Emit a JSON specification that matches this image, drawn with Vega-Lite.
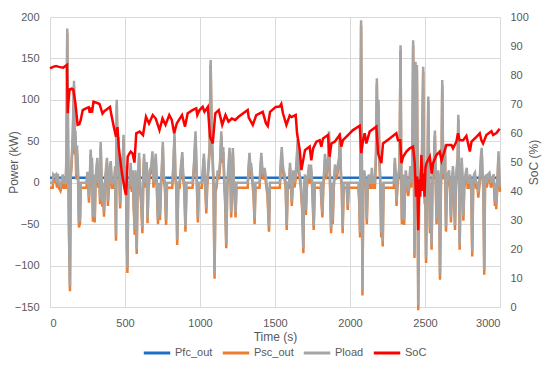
{
  "$schema": "https://vega.github.io/schema/vega-lite/v6.json",
  "width": 450,
  "height": 290,
  "autosize": {"type": "none"},
  "padding": {"left": 50, "top": 17, "right": 50, "bottom": 63},
  "config": {
    "font": "Liberation Sans",
    "view": {"stroke": null},
    "axis": {
      "domain": false,
      "ticks": false,
      "gridColor": "#D9D9D9",
      "gridWidth": 1,
      "labelColor": "#595959",
      "labelFontSize": 11,
      "titleColor": "#595959",
      "titleFontSize": 12,
      "titleFontWeight": "normal"
    },
    "legend": {
      "labelColor": "#595959",
      "labelFontSize": 11
    }
  },
  "datasets": {
    "power": [
      {"t":0,"Pload":0,"Psc":-6},{"t":18,"Pload":0,"Psc":-6},{"t":22,"Pload":10,"Psc":4},{"t":30,"Pload":8,"Psc":2},{"t":40,"Pload":10,"Psc":4},{"t":46,"Pload":0,"Psc":-6},{"t":52,"Pload":11,"Psc":5},{"t":58,"Pload":0,"Psc":-6},{"t":70,"Pload":-4,"Psc":-10},{"t":75,"Pload":0,"Psc":-6},{"t":85,"Pload":10,"Psc":4},{"t":92,"Pload":0,"Psc":-6},{"t":105,"Pload":0,"Psc":-6},
      {"t":110,"Pload":40,"Psc":34},{"t":115,"Pload":186,"Psc":180},{"t":120,"Pload":60,"Psc":54},{"t":127,"Pload":-60,"Psc":-66},{"t":133,"Pload":-125,"Psc":-131},{"t":138,"Pload":10,"Psc":4},{"t":145,"Pload":30,"Psc":24},{"t":152,"Pload":60,"Psc":54},{"t":160,"Pload":123,"Psc":117},{"t":165,"Pload":40,"Psc":34},{"t":170,"Pload":63,"Psc":57},{"t":175,"Pload":10,"Psc":4},{"t":180,"Pload":45,"Psc":35},{"t":186,"Pload":20,"Psc":14},{"t":193,"Pload":-48,"Psc":-54},{"t":200,"Pload":-43,"Psc":-49},{"t":205,"Pload":0,"Psc":-6},
      {"t":243,"Pload":0,"Psc":-6},{"t":249,"Pload":13,"Psc":7},{"t":255,"Pload":0,"Psc":-6},{"t":260,"Pload":-18,"Psc":-24},{"t":266,"Pload":10,"Psc":4},{"t":271,"Pload":40,"Psc":34},{"t":275,"Pload":25,"Psc":19},{"t":280,"Pload":30,"Psc":24},{"t":286,"Pload":-41,"Psc":-47},{"t":292,"Pload":10,"Psc":4},{"t":298,"Pload":-42,"Psc":-48},{"t":303,"Pload":0,"Psc":-6},{"t":310,"Pload":20,"Psc":14},{"t":316,"Pload":30,"Psc":24},{"t":322,"Pload":0,"Psc":-6},{"t":328,"Pload":15,"Psc":9},{"t":334,"Pload":-20,"Psc":-26},{"t":338,"Pload":49,"Psc":43},{"t":343,"Pload":10,"Psc":4},{"t":349,"Pload":-23,"Psc":-29},{"t":354,"Pload":0,"Psc":-6},{"t":360,"Pload":-35,"Psc":-41},{"t":366,"Pload":0,"Psc":-6},{"t":372,"Pload":15,"Psc":9},{"t":380,"Pload":30,"Psc":24},{"t":386,"Pload":-22,"Psc":-28},{"t":393,"Pload":0,"Psc":-6},{"t":400,"Pload":20,"Psc":14},{"t":405,"Pload":26,"Psc":20},{"t":412,"Pload":0,"Psc":-6},{"t":427,"Pload":0,"Psc":-6},{"t":434,"Pload":20,"Psc":14},{"t":440,"Pload":-64,"Psc":-70},{"t":445,"Pload":100,"Psc":94},{"t":450,"Pload":40,"Psc":34},{"t":456,"Pload":55,"Psc":49},{"t":462,"Pload":10,"Psc":4},{"t":468,"Pload":-25,"Psc":-31},{"t":472,"Pload":0,"Psc":-6},{"t":478,"Pload":30,"Psc":24},{"t":484,"Pload":15,"Psc":9},{"t":490,"Pload":58,"Psc":52},{"t":497,"Pload":0,"Psc":-6},{"t":505,"Pload":20,"Psc":14},{"t":510,"Pload":-40,"Psc":-46},{"t":516,"Pload":-103,"Psc":-109},{"t":522,"Pload":0,"Psc":-6},{"t":530,"Pload":0,"Psc":-6},{"t":538,"Pload":24,"Psc":18},{"t":545,"Pload":-5,"Psc":-11},{"t":552,"Pload":15,"Psc":9},{"t":558,"Pload":-24,"Psc":-30},{"t":565,"Pload":-57,"Psc":-63},{"t":570,"Pload":15,"Psc":9},{"t":578,"Pload":-80,"Psc":-86},{"t":584,"Pload":0,"Psc":-6},{"t":590,"Pload":20,"Psc":14},{"t":594,"Pload":36,"Psc":30},{"t":600,"Pload":0,"Psc":-6},{"t":608,"Pload":-20,"Psc":-26},{"t":616,"Pload":-55,"Psc":-61},{"t":622,"Pload":10,"Psc":4},{"t":627,"Pload":35,"Psc":29},{"t":633,"Pload":0,"Psc":-6},{"t":640,"Pload":20,"Psc":14},{"t":645,"Pload":25,"Psc":19},{"t":650,"Pload":-43,"Psc":-49},{"t":657,"Pload":0,"Psc":-6},{"t":665,"Pload":15,"Psc":9},{"t":675,"Pload":20,"Psc":14},{"t":683,"Pload":38,"Psc":32},{"t":690,"Pload":0,"Psc":-6},{"t":697,"Pload":15,"Psc":9},{"t":705,"Pload":35,"Psc":29},{"t":712,"Pload":0,"Psc":-6},{"t":720,"Pload":-44,"Psc":-50},{"t":727,"Pload":0,"Psc":-6},{"t":733,"Pload":-39,"Psc":-45},{"t":740,"Pload":0,"Psc":-6},{"t":746,"Pload":20,"Psc":14},{"t":752,"Pload":49,"Psc":43},{"t":758,"Pload":10,"Psc":4},{"t":766,"Pload":0,"Psc":-6},{"t":774,"Pload":-45,"Psc":-51},{"t":780,"Pload":0,"Psc":-6},{"t":815,"Pload":0,"Psc":-6},{"t":822,"Pload":20,"Psc":14},{"t":830,"Pload":60,"Psc":54},{"t":836,"Pload":10,"Psc":4},{"t":842,"Pload":0,"Psc":-6},{"t":848,"Pload":-69,"Psc":-75},{"t":855,"Pload":0,"Psc":-6},{"t":864,"Pload":0,"Psc":-6},{"t":870,"Pload":15,"Psc":9},{"t":876,"Pload":26,"Psc":20},{"t":882,"Pload":37,"Psc":31},{"t":888,"Pload":10,"Psc":4},{"t":895,"Pload":0,"Psc":-6},{"t":903,"Pload":-53,"Psc":-59},{"t":910,"Pload":0,"Psc":-6},{"t":950,"Pload":0,"Psc":-6},{"t":955,"Pload":10,"Psc":4},{"t":962,"Pload":30,"Psc":24},{"t":970,"Pload":62,"Psc":56},{"t":978,"Pload":10,"Psc":4},{"t":986,"Pload":-42,"Psc":-48},{"t":992,"Pload":0,"Psc":-6},{"t":1012,"Pload":0,"Psc":-6},{"t":1018,"Pload":15,"Psc":9},{"t":1026,"Pload":35,"Psc":29},{"t":1034,"Pload":5,"Psc":-1},{"t":1042,"Pload":-31,"Psc":-37},{"t":1048,"Pload":0,"Psc":-6},{"t":1055,"Pload":20,"Psc":14},{"t":1064,"Pload":42,"Psc":36},{"t":1071,"Pload":148,"Psc":142},{"t":1078,"Pload":60,"Psc":54},{"t":1085,"Pload":30,"Psc":24},{"t":1090,"Pload":0,"Psc":-6},{"t":1097,"Pload":-110,"Psc":-116},{"t":1103,"Pload":-5,"Psc":-11},{"t":1110,"Pload":0,"Psc":-6},{"t":1118,"Pload":15,"Psc":9},{"t":1126,"Pload":10,"Psc":4},{"t":1134,"Pload":26,"Psc":20},{"t":1142,"Pload":62,"Psc":56},{"t":1148,"Pload":30,"Psc":24},{"t":1155,"Pload":43,"Psc":37},{"t":1162,"Pload":5,"Psc":-1},{"t":1168,"Pload":-20,"Psc":-26},{"t":1175,"Pload":-73,"Psc":-79},{"t":1182,"Pload":0,"Psc":-6},{"t":1190,"Pload":20,"Psc":14},{"t":1197,"Pload":42,"Psc":36},{"t":1203,"Pload":10,"Psc":4},{"t":1208,"Pload":-36,"Psc":-42},{"t":1213,"Pload":0,"Psc":-6},{"t":1219,"Pload":42,"Psc":36},{"t":1225,"Pload":5,"Psc":-1},{"t":1230,"Pload":-10,"Psc":-16},{"t":1237,"Pload":-36,"Psc":-42},{"t":1243,"Pload":0,"Psc":-6},{"t":1318,"Pload":0,"Psc":-6},{"t":1324,"Pload":20,"Psc":14},{"t":1330,"Pload":36,"Psc":30},{"t":1336,"Pload":18,"Psc":12},{"t":1342,"Pload":20,"Psc":14},{"t":1350,"Pload":5,"Psc":-1},{"t":1357,"Pload":-10,"Psc":-16},{"t":1364,"Pload":-44,"Psc":-50},{"t":1370,"Pload":0,"Psc":-6},{"t":1397,"Pload":0,"Psc":-6},{"t":1403,"Pload":20,"Psc":14},{"t":1409,"Pload":36,"Psc":30},{"t":1416,"Pload":15,"Psc":9},{"t":1424,"Pload":10,"Psc":4},{"t":1431,"Pload":18,"Psc":12},{"t":1440,"Pload":5,"Psc":-1},{"t":1450,"Pload":-10,"Psc":-16},{"t":1460,"Pload":-53,"Psc":-59},{"t":1466,"Pload":0,"Psc":-6},{"t":1532,"Pload":0,"Psc":-6},{"t":1540,"Pload":30,"Psc":24},{"t":1545,"Pload":43,"Psc":37},{"t":1550,"Pload":25,"Psc":19},{"t":1557,"Pload":15,"Psc":9},{"t":1564,"Pload":10,"Psc":4},{"t":1571,"Pload":0,"Psc":-6},{"t":1578,"Pload":-51,"Psc":-57},{"t":1585,"Pload":0,"Psc":-6},{"t":1594,"Pload":0,"Psc":-6},{"t":1600,"Pload":24,"Psc":18},{"t":1606,"Pload":5,"Psc":-1},{"t":1612,"Pload":-22,"Psc":-28},{"t":1618,"Pload":0,"Psc":-6},{"t":1622,"Pload":15,"Psc":9},{"t":1630,"Pload":0,"Psc":-6},{"t":1638,"Pload":10,"Psc":4},{"t":1645,"Pload":30,"Psc":24},{"t":1651,"Pload":52,"Psc":46},{"t":1658,"Pload":20,"Psc":14},{"t":1665,"Pload":10,"Psc":4},{"t":1672,"Pload":0,"Psc":-6},{"t":1682,"Pload":-30,"Psc":-36},{"t":1689,"Pload":-79,"Psc":-85},{"t":1695,"Pload":0,"Psc":-6},{"t":1700,"Pload":10,"Psc":4},{"t":1706,"Pload":-33,"Psc":-39},{"t":1712,"Pload":0,"Psc":-6},{"t":1720,"Pload":10,"Psc":4},{"t":1727,"Pload":22,"Psc":16},{"t":1734,"Pload":5,"Psc":-1},{"t":1740,"Pload":22,"Psc":16},{"t":1748,"Pload":0,"Psc":-6},{"t":1758,"Pload":-51,"Psc":-57},{"t":1765,"Pload":0,"Psc":-6},{"t":1805,"Pload":0,"Psc":-6},{"t":1811,"Pload":-22,"Psc":-28},{"t":1816,"Pload":-36,"Psc":-42},{"t":1822,"Pload":0,"Psc":-6},{"t":1828,"Pload":15,"Psc":9},{"t":1833,"Pload":35,"Psc":29},{"t":1840,"Pload":10,"Psc":4},{"t":1847,"Pload":20,"Psc":14},{"t":1854,"Pload":30,"Psc":24},{"t":1860,"Pload":62,"Psc":56},{"t":1866,"Pload":10,"Psc":4},{"t":1874,"Pload":-55,"Psc":-61},{"t":1880,"Pload":0,"Psc":-6},{"t":1885,"Pload":-44,"Psc":-50},{"t":1892,"Pload":0,"Psc":-6},{"t":1900,"Pload":22,"Psc":16},{"t":1908,"Pload":10,"Psc":4},{"t":1915,"Pload":15,"Psc":9},{"t":1922,"Pload":25,"Psc":19},{"t":1927,"Pload":30,"Psc":24},{"t":1933,"Pload":60,"Psc":54},{"t":1940,"Pload":10,"Psc":4},{"t":1945,"Pload":0,"Psc":-6},{"t":1951,"Pload":-55,"Psc":-61},{"t":1958,"Pload":0,"Psc":-6},{"t":1978,"Pload":0,"Psc":-6},{"t":1985,"Pload":-27,"Psc":-33},{"t":1992,"Pload":0,"Psc":-6},{"t":2056,"Pload":0,"Psc":-6},{"t":2062,"Pload":-20,"Psc":-26},{"t":2067,"Pload":-60,"Psc":-66},{"t":2074,"Pload":196,"Psc":190},{"t":2079,"Pload":30,"Psc":24},{"t":2083,"Pload":-130,"Psc":-136},{"t":2089,"Pload":10,"Psc":4},{"t":2095,"Pload":15,"Psc":9},{"t":2102,"Pload":5,"Psc":-1},{"t":2107,"Pload":0,"Psc":-6},{"t":2112,"Pload":-44,"Psc":-50},{"t":2118,"Pload":0,"Psc":-6},{"t":2125,"Pload":10,"Psc":4},{"t":2133,"Pload":0,"Psc":-6},{"t":2140,"Pload":0,"Psc":-6},{"t":2146,"Pload":18,"Psc":12},{"t":2152,"Pload":0,"Psc":-6},{"t":2166,"Pload":0,"Psc":-6},{"t":2174,"Pload":40,"Psc":34},{"t":2179,"Pload":126,"Psc":120},{"t":2184,"Pload":40,"Psc":34},{"t":2190,"Pload":100,"Psc":94},{"t":2196,"Pload":30,"Psc":24},{"t":2202,"Pload":5,"Psc":-1},{"t":2208,"Pload":-60,"Psc":-66},{"t":2213,"Pload":0,"Psc":-6},{"t":2218,"Pload":-71,"Psc":-77},{"t":2224,"Pload":0,"Psc":-6},{"t":2292,"Pload":0,"Psc":-6},{"t":2299,"Pload":30,"Psc":24},{"t":2305,"Pload":10,"Psc":4},{"t":2310,"Pload":-22,"Psc":-28},{"t":2316,"Pload":0,"Psc":-6},{"t":2322,"Pload":10,"Psc":4},{"t":2330,"Pload":20,"Psc":14},{"t":2337,"Pload":166,"Psc":160},{"t":2342,"Pload":10,"Psc":4},{"t":2346,"Pload":-44,"Psc":-50},{"t":2352,"Pload":0,"Psc":-6},{"t":2356,"Pload":10,"Psc":4},{"t":2361,"Pload":-45,"Psc":-51},{"t":2367,"Pload":0,"Psc":-6},{"t":2372,"Pload":15,"Psc":9},{"t":2380,"Pload":0,"Psc":-6},{"t":2388,"Pload":-10,"Psc":-16},{"t":2395,"Pload":0,"Psc":-6},{"t":2402,"Pload":20,"Psc":14},{"t":2408,"Pload":0,"Psc":-6},{"t":2415,"Pload":20,"Psc":14},{"t":2421,"Pload":172,"Psc":166},{"t":2426,"Pload":30,"Psc":24},{"t":2430,"Pload":-85,"Psc":-91},{"t":2434,"Pload":0,"Psc":-6},{"t":2437,"Pload":146,"Psc":140},{"t":2441,"Pload":40,"Psc":34},{"t":2446,"Pload":142,"Psc":136},{"t":2450,"Pload":30,"Psc":24},{"t":2455,"Pload":-148,"Psc":-154},{"t":2461,"Pload":0,"Psc":-6},{"t":2468,"Pload":5,"Psc":-1},{"t":2474,"Pload":20,"Psc":14},{"t":2480,"Pload":35,"Psc":29},{"t":2488,"Pload":140,"Psc":134},{"t":2493,"Pload":20,"Psc":14},{"t":2498,"Pload":-20,"Psc":-26},{"t":2502,"Pload":0,"Psc":-6},{"t":2507,"Pload":-91,"Psc":-97},{"t":2512,"Pload":5,"Psc":-1},{"t":2517,"Pload":15,"Psc":9},{"t":2522,"Pload":104,"Psc":98},{"t":2527,"Pload":20,"Psc":14},{"t":2533,"Pload":-55,"Psc":-61},{"t":2538,"Pload":0,"Psc":-6},{"t":2544,"Pload":-75,"Psc":-81},{"t":2550,"Pload":10,"Psc":4},{"t":2555,"Pload":15,"Psc":9},{"t":2560,"Pload":30,"Psc":24},{"t":2566,"Pload":63,"Psc":57},{"t":2571,"Pload":10,"Psc":4},{"t":2577,"Pload":-44,"Psc":-50},{"t":2583,"Pload":0,"Psc":-6},{"t":2588,"Pload":15,"Psc":9},{"t":2594,"Pload":5,"Psc":-1},{"t":2600,"Pload":-111,"Psc":-117},{"t":2606,"Pload":0,"Psc":-6},{"t":2610,"Pload":20,"Psc":14},{"t":2615,"Pload":124,"Psc":118},{"t":2621,"Pload":20,"Psc":14},{"t":2627,"Pload":10,"Psc":4},{"t":2633,"Pload":46,"Psc":40},{"t":2640,"Pload":-53,"Psc":-59},{"t":2646,"Pload":0,"Psc":-6},{"t":2652,"Pload":10,"Psc":4},{"t":2660,"Pload":15,"Psc":9},{"t":2666,"Pload":0,"Psc":-6},{"t":2673,"Pload":-42,"Psc":-48},{"t":2680,"Pload":0,"Psc":-6},{"t":2686,"Pload":20,"Psc":14},{"t":2692,"Pload":0,"Psc":-6},{"t":2700,"Pload":-51,"Psc":-57},{"t":2706,"Pload":0,"Psc":-6},{"t":2712,"Pload":20,"Psc":14},{"t":2718,"Pload":30,"Psc":24},{"t":2722,"Pload":82,"Psc":76},{"t":2727,"Pload":10,"Psc":4},{"t":2731,"Pload":-75,"Psc":-81},{"t":2737,"Pload":0,"Psc":-6},{"t":2745,"Pload":30,"Psc":24},{"t":2750,"Pload":5,"Psc":-1},{"t":2756,"Pload":-40,"Psc":-46},{"t":2762,"Pload":0,"Psc":-6},{"t":2770,"Pload":10,"Psc":4},{"t":2778,"Pload":18,"Psc":12},{"t":2784,"Pload":0,"Psc":-6},{"t":2796,"Pload":0,"Psc":-6},{"t":2800,"Pload":10,"Psc":4},{"t":2808,"Pload":0,"Psc":-6},{"t":2815,"Pload":-83,"Psc":-89},{"t":2821,"Pload":0,"Psc":-6},{"t":2827,"Pload":10,"Psc":4},{"t":2833,"Pload":12,"Psc":6},{"t":2840,"Pload":0,"Psc":-6},{"t":2850,"Pload":0,"Psc":-6},{"t":2855,"Pload":-12,"Psc":-18},{"t":2862,"Pload":0,"Psc":-6},{"t":2868,"Pload":15,"Psc":9},{"t":2874,"Pload":35,"Psc":29},{"t":2878,"Pload":42,"Psc":36},{"t":2884,"Pload":10,"Psc":4},{"t":2889,"Pload":0,"Psc":-6},{"t":2895,"Pload":-105,"Psc":-111},{"t":2900,"Pload":0,"Psc":-6},{"t":2906,"Pload":10,"Psc":4},{"t":2912,"Pload":0,"Psc":-6},{"t":2920,"Pload":10,"Psc":4},{"t":2930,"Pload":12,"Psc":6},{"t":2940,"Pload":0,"Psc":-6},{"t":2958,"Pload":10,"Psc":4},{"t":2966,"Pload":-22,"Psc":-28},{"t":2970,"Pload":0,"Psc":-6},{"t":2975,"Pload":-26,"Psc":-32},{"t":2982,"Pload":0,"Psc":-6},{"t":2990,"Pload":38,"Psc":32},{"t":2995,"Pload":10,"Psc":4},{"t":3000,"Pload":-5,"Psc":-11}
    ],
    "soc": [
      {"t":0,"SoC":82.3},{"t":20,"SoC":82.8},{"t":40,"SoC":83.1},{"t":60,"SoC":82.8},{"t":87,"SoC":82.5},{"t":107,"SoC":83.3},{"t":113,"SoC":83.5},{"t":118,"SoC":66.8},{"t":122,"SoC":70},{"t":130,"SoC":75},{"t":145,"SoC":75.3},{"t":155,"SoC":75},{"t":170,"SoC":70},{"t":184,"SoC":62.8},{"t":195,"SoC":63},{"t":205,"SoC":64.5},{"t":218,"SoC":67.9},{"t":240,"SoC":68.5},{"t":258,"SoC":68.9},{"t":265,"SoC":67},{"t":272,"SoC":68.8},{"t":280,"SoC":67},{"t":290,"SoC":70.8},{"t":310,"SoC":70.5},{"t":330,"SoC":70},{"t":350,"SoC":66.7},{"t":362,"SoC":67.5},{"t":375,"SoC":68},{"t":400,"SoC":69},{"t":410,"SoC":66},{"t":425,"SoC":62.2},{"t":440,"SoC":58.7},{"t":450,"SoC":62},{"t":458,"SoC":55.3},{"t":470,"SoC":50},{"t":480,"SoC":46},{"t":490,"SoC":43},{"t":500,"SoC":40},{"t":507,"SoC":38.6},{"t":512,"SoC":44},{"t":518,"SoC":51.8},{"t":530,"SoC":53},{"t":538,"SoC":53.6},{"t":550,"SoC":53},{"t":563,"SoC":49.8},{"t":575,"SoC":59.9},{"t":598,"SoC":60.5},{"t":620,"SoC":59.3},{"t":640,"SoC":65.6},{"t":660,"SoC":63.3},{"t":685,"SoC":66.2},{"t":705,"SoC":65},{"t":730,"SoC":61},{"t":750,"SoC":65},{"t":770,"SoC":62.8},{"t":795,"SoC":66.2},{"t":812,"SoC":64.5},{"t":828,"SoC":59.9},{"t":845,"SoC":63.3},{"t":880,"SoC":66.2},{"t":900,"SoC":62.2},{"t":918,"SoC":66.8},{"t":950,"SoC":67.9},{"t":975,"SoC":68.5},{"t":982,"SoC":66.2},{"t":997,"SoC":67.9},{"t":1018,"SoC":69},{"t":1030,"SoC":67.3},{"t":1052,"SoC":69},{"t":1067,"SoC":58.7},{"t":1085,"SoC":56.4},{"t":1102,"SoC":66.8},{"t":1125,"SoC":67.9},{"t":1148,"SoC":62.8},{"t":1170,"SoC":66.2},{"t":1190,"SoC":63.9},{"t":1212,"SoC":65},{"t":1235,"SoC":64.5},{"t":1257,"SoC":65.6},{"t":1318,"SoC":67.9},{"t":1325,"SoC":65.3},{"t":1352,"SoC":62.8},{"t":1375,"SoC":66.2},{"t":1418,"SoC":67.3},{"t":1440,"SoC":63.3},{"t":1452,"SoC":62.4},{"t":1467,"SoC":67.3},{"t":1505,"SoC":69},{"t":1531,"SoC":69.1},{"t":1542,"SoC":70},{"t":1553,"SoC":66.8},{"t":1576,"SoC":62.8},{"t":1598,"SoC":66},{"t":1610,"SoC":65.5},{"t":1638,"SoC":66.2},{"t":1647,"SoC":59.9},{"t":1665,"SoC":54.1},{"t":1676,"SoC":47.2},{"t":1700,"SoC":54.1},{"t":1731,"SoC":55.3},{"t":1742,"SoC":50.6},{"t":1754,"SoC":54.7},{"t":1776,"SoC":57},{"t":1798,"SoC":57.5},{"t":1809,"SoC":55.3},{"t":1820,"SoC":58.1},{"t":1853,"SoC":59.3},{"t":1864,"SoC":51.8},{"t":1876,"SoC":56.4},{"t":1898,"SoC":57},{"t":1931,"SoC":59.3},{"t":1942,"SoC":55.3},{"t":1953,"SoC":57.5},{"t":1998,"SoC":59.9},{"t":2020,"SoC":61},{"t":2065,"SoC":62.5},{"t":2075,"SoC":53},{"t":2087,"SoC":57.5},{"t":2098,"SoC":59.9},{"t":2109,"SoC":56.4},{"t":2131,"SoC":60.5},{"t":2176,"SoC":62.2},{"t":2187,"SoC":53},{"t":2209,"SoC":49.6},{"t":2220,"SoC":56.4},{"t":2265,"SoC":58.1},{"t":2309,"SoC":59.9},{"t":2320,"SoC":57.5},{"t":2335,"SoC":57.5},{"t":2343,"SoC":49.6},{"t":2354,"SoC":51.8},{"t":2376,"SoC":53.6},{"t":2398,"SoC":54.7},{"t":2420,"SoC":55.3},{"t":2431,"SoC":50},{"t":2440,"SoC":38},{"t":2448,"SoC":45},{"t":2455,"SoC":26.5},{"t":2462,"SoC":44},{"t":2468,"SoC":38},{"t":2476,"SoC":52.4},{"t":2484,"SoC":40},{"t":2490,"SoC":46},{"t":2497,"SoC":38},{"t":2503,"SoC":48},{"t":2510,"SoC":49.6},{"t":2532,"SoC":51.8},{"t":2545,"SoC":46},{"t":2554,"SoC":49.6},{"t":2576,"SoC":52.4},{"t":2598,"SoC":53.6},{"t":2610,"SoC":50.6},{"t":2643,"SoC":55.9},{"t":2676,"SoC":55.9},{"t":2687,"SoC":54.7},{"t":2709,"SoC":57},{"t":2720,"SoC":59.9},{"t":2731,"SoC":57.5},{"t":2754,"SoC":57.5},{"t":2776,"SoC":59},{"t":2799,"SoC":53.6},{"t":2810,"SoC":57},{"t":2843,"SoC":58.7},{"t":2865,"SoC":59.9},{"t":2876,"SoC":57.5},{"t":2887,"SoC":56.4},{"t":2909,"SoC":59.3},{"t":2943,"SoC":60.6},{"t":2954,"SoC":59.3},{"t":2976,"SoC":60},{"t":2998,"SoC":61.5}
    ]
  },
  "encoding": {
    "x": {
      "field": "t",
      "type": "quantitative",
      "scale": {"domain": [0, 3000], "nice": false, "zero": false},
      "axis": {"title": "Time (s)", "values": [0, 500, 1000, 1500, 2000, 2500, 3000], "format": "d", "labelPadding": 10, "titlePadding": 3}
    }
  },
  "layer": [
    {
      "encoding": {
        "y": {"type": "quantitative", "scale": {"domain": [-150, 200], "nice": false},
          "axis": {"title": "Power (kW)", "values": [-150, -100, -50, 0, 50, 100, 150, 200], "labelPadding": 11, "titleX": -30, "titleY": 145, "titleBaseline": "bottom", "titleAngle": 270}}
      },
      "layer": [
        {
          "data": {"values": [{"t": 0, "P": 6}, {"t": 3000, "P": 6}]},
          "mark": {"type": "line", "strokeWidth": 2.5},
          "encoding": {
            "y": {"field": "P", "type": "quantitative"},
            "color": {"datum": "Pfc_out", "type": "nominal"}
          }
        },
        {
          "data": {"name": "power"},
          "mark": {"type": "line", "strokeWidth": 2.5},
          "encoding": {
            "y": {"field": "Psc", "type": "quantitative"},
            "color": {"datum": "Psc_out", "type": "nominal"}
          }
        },
        {
          "data": {"name": "power"},
          "mark": {"type": "line", "strokeWidth": 2.5},
          "encoding": {
            "y": {"field": "Pload", "type": "quantitative"},
            "color": {"datum": "Pload", "type": "nominal"}
          }
        }
      ]
    },
    {
      "data": {"name": "soc"},
      "mark": {"type": "line", "strokeWidth": 2.5},
      "encoding": {
        "y": {"field": "SoC", "type": "quantitative", "scale": {"domain": [0, 100], "nice": false},
          "axis": {"orient": "right", "title": "SoC (%)", "grid": false, "values": [0, 10, 20, 30, 40, 50, 60, 70, 80, 90, 100], "labelPadding": 10, "titlePadding": 12, "titleAngle": 270}},
        "color": {
          "datum": "SoC",
          "type": "nominal",
          "scale": {"domain": ["Pfc_out", "Psc_out", "Pload", "SoC"], "range": ["#1F6FC5", "#ED7D31", "#A5A5A5", "#FF0000"]},
          "legend": {
            "title": null,
            "orient": "none",
            "direction": "horizontal",
            "legendX": 92,
            "legendY": 321,
            "gridAlign": "none",
            "symbolType": "stroke",
            "symbolSize": 700,
            "symbolStrokeWidth": 3,
            "labelOffset": 3,
            "columnPadding": 3,
            "padding": 0
          }
        }
      }
    }
  ],
  "resolve": {"scale": {"y": "independent"}}
}
